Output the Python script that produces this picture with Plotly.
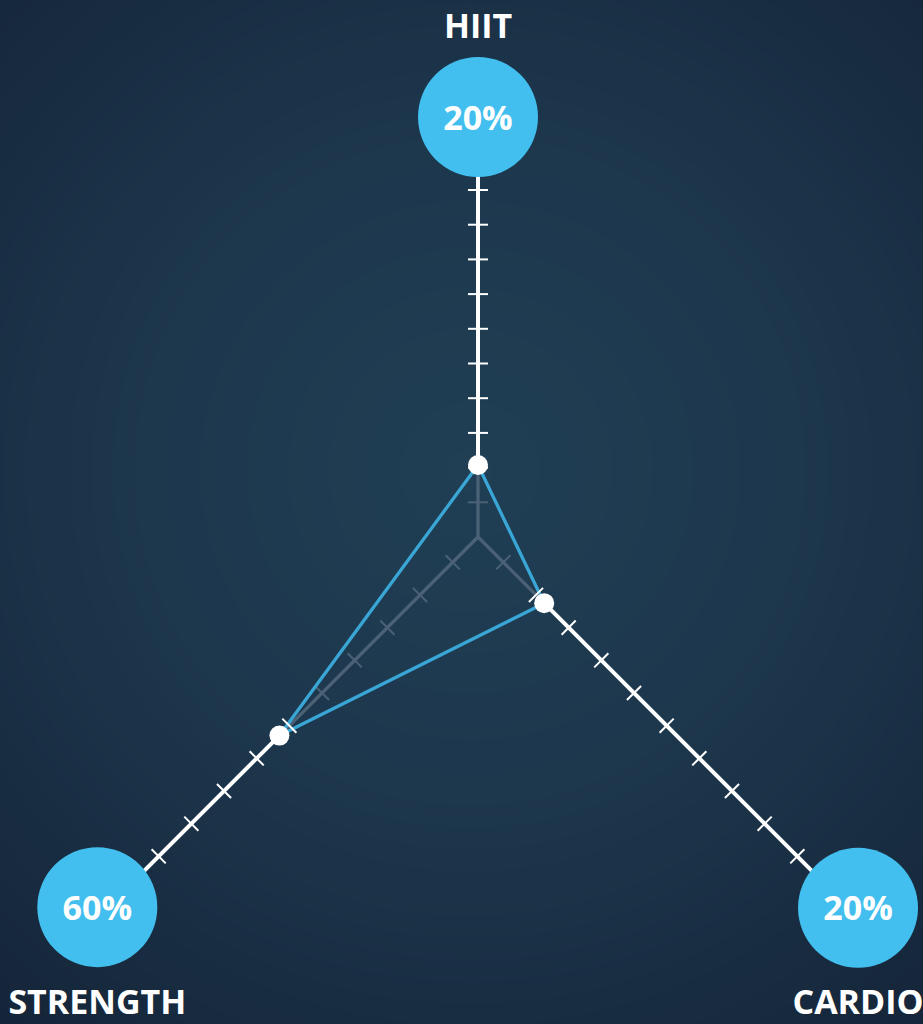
import math
import numpy as np
import plotly.graph_objects as go

# ---------------- data ----------------
categories = ["HIIT", "STRENGTH", "CARDIO"]
values = [20, 60, 20]            # percent
tick_values = list(range(10, 101, 10))

# ---------------- layout parameters ----------------
W, H = 923, 1024
center = (478, 537)
angles = [90.0, 225.0, -45.0]            # axis directions, degrees, y-up
circle_angles = [90.0, 224.2, -44.3]     # direction of the value circles
unit = [36.0, 46.8, 46.8]                # px per 10 %
tick_step = [34.7, 46.2, 46.2]
tick_off = [0.0, -10.4, -10.4]
circle_dist = [420.0, 531.0, 531.0]
circle_r = 60
label_dy = [-88, 98, 98]

BLUE = "#42BFEE"
LINE_BLUE = "#3AA6D6"
GRAY = "#4B6176"
WHITE = "#FFFFFF"
FONT = "Open Sans"


def pt(i, d, ang=None):
    a = math.radians(angles[i] if ang is None else ang)
    return center[0] + d * math.cos(a), center[1] - d * math.sin(a)


def perp(i, d, half):
    a = math.radians(angles[i])
    x, y = pt(i, d)
    px, py = -math.sin(a), -math.cos(a)
    return (x - half * px, x + half * px), (y - half * py, y + half * py)


fig = go.Figure()

# background radial gradient
gx = np.linspace(0, W, 48)
gy = np.linspace(0, H, 52)
GX, GY = np.meshgrid(gx, gy)
Z = np.sqrt((GX - 470) ** 2 + (GY - 470) ** 2)
fig.add_trace(go.Heatmap(
    x=gx, y=gy, z=Z, zsmooth="best", showscale=False, hoverinfo="skip",
    colorscale=[[0, "#203F54"], [0.45, "#1D374D"], [1, "#152539"]],
    zmin=0, zmax=720))

data_d = [v / 10 * unit[i] for i, v in enumerate(values)]

# gray inner axes
gxs, gys = [], []
for i in range(3):
    x0, y0 = center
    x1, y1 = pt(i, data_d[i])
    gxs += [x0, x1, None]
    gys += [y0, y1, None]
fig.add_trace(go.Scatter(x=gxs, y=gys, mode="lines",
                         line=dict(color=GRAY, width=3.3), hoverinfo="skip"))

# ticks
tw_x, tw_y, tg_x, tg_y = [], [], [], []
for i in range(3):
    for k, tv in enumerate(tick_values, start=1):
        d = tick_off[i] + tick_step[i] * k
        xs, ys = perp(i, d, 10)
        if tv >= values[i]:
            tw_x += [xs[0], xs[1], None]
            tw_y += [ys[0], ys[1], None]
        else:
            tg_x += [xs[0], xs[1], None]
            tg_y += [ys[0], ys[1], None]
fig.add_trace(go.Scatter(x=tg_x, y=tg_y, mode="lines",
                         line=dict(color=GRAY, width=2), hoverinfo="skip"))

# data polygon
order = [0, 2, 1, 0]
px_, py_ = [], []
for i in order:
    x, y = pt(i, data_d[i])
    px_.append(x)
    py_.append(y)
fig.add_trace(go.Scatter(x=px_, y=py_, mode="lines",
                         line=dict(color=LINE_BLUE, width=3.3), hoverinfo="skip"))

# white outer axes
wxs, wys = [], []
for i in range(3):
    x0, y0 = pt(i, data_d[i])
    x1, y1 = pt(i, circle_dist[i] - circle_r + 4)
    wxs += [x0, x1, None]
    wys += [y0, y1, None]
fig.add_trace(go.Scatter(x=wxs, y=wys, mode="lines",
                         line=dict(color=WHITE, width=4), hoverinfo="skip"))
fig.add_trace(go.Scatter(x=tw_x, y=tw_y, mode="lines",
                         line=dict(color=WHITE, width=2), hoverinfo="skip"))

# data dots
dx_ = [pt(i, data_d[i])[0] for i in range(3)]
dy_ = [pt(i, data_d[i])[1] for i in range(3)]
fig.add_trace(go.Scatter(x=dx_, y=dy_, mode="markers",
                         marker=dict(color=WHITE, size=20, line=dict(width=0)),
                         hoverinfo="skip"))

# value circles
cx = [pt(i, circle_dist[i], circle_angles[i])[0] for i in range(3)]
cy = [pt(i, circle_dist[i], circle_angles[i])[1] for i in range(3)]
fig.add_trace(go.Scatter(
    x=cx, y=cy, mode="markers",
    marker=dict(color=BLUE, size=2 * circle_r, line=dict(width=0)),
    hoverinfo="skip"))
fig.add_trace(go.Scatter(
    x=cx, y=[c + 4 for c in cy], mode="text",
    text=[f"{v}%" for v in values], textposition="middle center",
    textfont=dict(family=FONT, size=34, color=WHITE, weight=700),
    hoverinfo="skip"))

# category labels
fig.add_trace(go.Scatter(
    x=cx, y=[cy[i] + label_dy[i] for i in range(3)], mode="text",
    text=categories, textposition="middle center",
    textfont=dict(family=FONT, size=34, color=WHITE, weight=700),
    hoverinfo="skip"))

fig.update_layout(
    width=W, height=H, margin=dict(l=0, r=0, t=0, b=0),
    paper_bgcolor="#1B3147", plot_bgcolor="#1B3147",
    showlegend=False,
    xaxis=dict(range=[0, W], visible=False, fixedrange=True),
    yaxis=dict(range=[H, 0], visible=False, fixedrange=True),
)

fig.write_html(
    "out.html",
    config={"displayModeBar": False},
    post_script="document.body.style.margin='0';document.body.style.padding='0';"
                "document.body.style.overflow='hidden';",
)
